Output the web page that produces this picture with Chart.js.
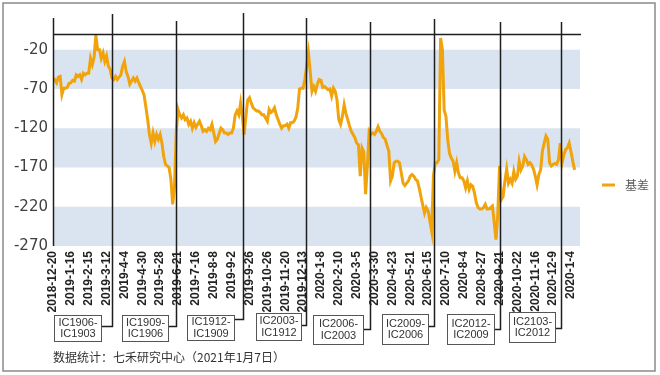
<!DOCTYPE html>
<html><head><meta charset="utf-8">
<script src="https://cdn.jsdelivr.net/npm/chart.js@4.4.1/dist/chart.umd.min.js"></script>
<style>html,body{margin:0;padding:0;background:#fff}canvas{display:block}</style>
</head><body>
<canvas id="c" width="660" height="375"></canvas>
<script>
const seriesName = '基差';
const tickLabels = ['2018-12-20','2019-1-16','2019-2-15','2019-3-12','2019-4-4','2019-4-30','2019-5-28','2019-6-21','2019-7-16','2019-8-8','2019-9-2','2019-9-26','2019-10-26','2019-11-20','2019-12-13','2020-1-8','2020-2-10','2020-3-5','2020-3-30','2020-4-23','2020-5-21','2020-6-15','2020-7-10','2020-8-4','2020-8-27','2020-9-21','2020-10-22','2020-11-16','2020-12-9','2020-1-4'];
const labelEvery = 10;
const yTicks = [-270,-220,-170,-120,-70,-20];
const yMin = -270, yMax = 0;
const basis = [
-60,-58,-62,-55,-54,-77,-69,-69,-68,-63,
-62,-59,-60,-52,-54,-52,-58,-50,-52,-50,
-50,-31,-39,-30,-2,-20,-20,-31,-24,-35,
-28,-41,-45,-56,-58,-54,-58,-55,-52,-41,
-35,-48,-54,-64,-60,-56,-60,-56,-62,-67,
-72,-78,-93,-109,-128,-139,-126,-137,-128,-134,
-128,-139,-156,-166,-168,-170,-185,-217,-195,-125,
-96,-103,-107,-103,-109,-107,-115,-111,-120,-113,
-119,-115,-111,-117,-124,-122,-124,-120,-122,-115,
-126,-137,-134,-127,-120,-122,-126,-126,-128,-126,
-126,-120,-103,-98,-103,-88,-105,-128,-105,-84,
-81,-88,-94,-96,-98,-98,-100,-103,-103,-107,
-111,-96,-100,-98,-94,-103,-109,-115,-120,-117,
-117,-115,-120,-113,-113,-111,-106,-95,-70,-69,
-69,-58,-41,-24,-48,-73,-67,-73,-64,-58,
-59,-68,-67,-69,-71,-70,-79,-69,-73,-84,
-109,-115,-105,-90,-101,-109,-117,-124,-128,-132,
-139,-141,-181,-145,-150,-204,-168,-124,-128,-126,
-128,-124,-118,-124,-127,-132,-134,-142,-149,-187,
-181,-164,-162,-162,-164,-177,-190,-193,-190,-187,
-181,-179,-181,-185,-187,-196,-207,-218,-228,-221,
-225,-238,-251,-180,-164,-164,-160,-5,-20,-97,
-105,-135,-152,-158,-162,-175,-164,-177,-183,-183,
-187,-196,-187,-198,-192,-194,-203,-215,-221,-223,
-223,-221,-217,-223,-223,-221,-219,-240,-262,-230,
-168,-211,-207,-187,-172,-190,-185,-190,-175,-185,
-181,-162,-173,-168,-156,-160,-166,-164,-167,-172,
-181,-192,-179,-173,-149,-139,-130,-134,-164,-168,
-166,-165,-166,-160,-139,-164,-154,-147,-145,-139,
-150,-162,-173
];
const rollIdx = [33, 69, 106.5, 141.5, 177.5, 213.5, 250.5, 284.5];
const rollNew = ['IC1906','IC1909','IC1912','IC2003','IC2006','IC2009','IC2012','IC2103'];
const rollOld = ['IC1903','IC1906','IC1909','IC1912','IC2003','IC2006','IC2009','IC2012'];
const sourceNote = '数据统计：七禾研究中心（2021年1月7日）';

const LINE_COLOR = '#F0A30A';
const BAND_COLOR = '#DAE4F0';

const decor = {
  id: 'decor',
  beforeDraw(chart) {
    const ctx = chart.ctx;
    ctx.save();
    ctx.fillStyle = '#fff';
    ctx.fillRect(0, 0, chart.width, chart.height);
    ctx.restore();
  },
  beforeDatasetsDraw(chart) {
    const {ctx, chartArea: a, scales: {y}} = chart;
    ctx.save();
    ctx.fillStyle = BAND_COLOR;
    const t = yTicks.slice().sort((p, q) => q - p);
    for (let i = 0; i + 1 < t.length; i += 2) {
      const y1 = y.getPixelForValue(t[i]), y2 = y.getPixelForValue(t[i + 1]);
      ctx.fillRect(a.left, y1, a.right - a.left - 1, y2 - y1);
    }
    ctx.restore();
  },
  afterDatasetsDraw(chart) {
    const {ctx, chartArea: a, scales: {x, y}} = chart;
    ctx.save();
    ctx.strokeStyle = '#1e1e1e';
    ctx.lineWidth = 1.5;
    // top border line at axis max
    const yTop = Math.round(y.getPixelForValue(yMax)) + 0.5;
    ctx.beginPath(); ctx.moveTo(a.left, yTop); ctx.lineTo(a.right, yTop); ctx.stroke();
    // y axis line
    const x0 = Math.round(x.getPixelForValue(0)) + 0.5;
    ctx.beginPath(); ctx.moveTo(x0, 18); ctx.lineTo(x0, a.bottom); ctx.stroke();
    // rollover lines + boxes
    const lineTop = [14, 21, 13, 18, 22, 19, 22, 22];
    const joinY = [326, 326, 319, 325, 329, 326, 329, 328];
    const boxGap = [12, 9, 10, 6, 8, 7, 7, 7];
    const boxW = [47, 46, 47, 45, 50, 46, 47, 46];
    const boxTop = [315, 315, 315, 313, 315, 314, 314, 312];
    const boxH = [26, 26, 25, 27, 29, 30, 30, 30];
    ctx.font = '11px "Liberation Sans", Arial, sans-serif';
    ctx.textAlign = 'center';
    ctx.textBaseline = 'middle';
    rollIdx.forEach((r, i) => {
      const lx = Math.round(x.getPixelForValue(r)) + 0.5;
      const jy = joinY[i] + 0.5;
      const bx = Math.round(lx - boxGap[i] - boxW[i]) + 0.5;
      ctx.strokeStyle = '#1e1e1e';
      ctx.lineWidth = 1.5;
      ctx.beginPath();
      ctx.moveTo(lx, lineTop[i]);
      ctx.lineTo(lx, jy);
      ctx.lineTo(bx + boxW[i], jy);
      ctx.stroke();
      ctx.fillStyle = '#fff';
      ctx.fillRect(bx, boxTop[i] + 0.5, boxW[i], boxH[i]);
      ctx.strokeStyle = '#555';
      ctx.lineWidth = 1;
      ctx.strokeRect(bx, boxTop[i] + 0.5, boxW[i], boxH[i]);
      ctx.fillStyle = '#333';
      const cx = bx + boxW[i] / 2, cy = boxTop[i] + boxH[i] / 2 + 0.5;
      ctx.fillText(rollNew[i] + '-', cx, cy - 5.8);
      ctx.fillText(rollOld[i], cx, cy + 5.8);
    });
    // legend
    ctx.strokeStyle = LINE_COLOR;
    ctx.lineWidth = 3;
    ctx.beginPath(); ctx.moveTo(602, 185); ctx.lineTo(615, 185); ctx.stroke();
    ctx.fillStyle = '#595959';
    ctx.textAlign = 'left';
    ctx.font = '12px "Noto Sans CJK SC", sans-serif';
    ctx.fillText(chart.data.datasets[0].label, 625, 185);
    // source note
    ctx.fillStyle = '#333';
    ctx.font = '12px "Noto Sans CJK SC", sans-serif';
    ctx.fillText(sourceNote, 53, 357);
    // outer frame
    ctx.strokeStyle = '#8a8a8a';
    ctx.lineWidth = 1.5;
    ctx.strokeRect(3, 3, 652, 368);
    ctx.restore();
  }
};

new Chart(document.getElementById('c'), {
  type: 'line',
  data: {
    datasets: [{
      label: seriesName,
      data: basis.map((v, i) => ({x: i, y: v})),
      borderColor: LINE_COLOR,
      backgroundColor: LINE_COLOR,
      borderWidth: 3,
      pointRadius: 0,
      tension: 0,
      fill: false
    }]
  },
  options: {
    responsive: false,
    animation: false,
    devicePixelRatio: 1,
    layout: {padding: {left: 0, top: 34, right: 79, bottom: 0}},
    plugins: {legend: {display: false}, tooltip: {enabled: false}},
    scales: {
      x: {
        type: 'linear',
        min: 0,
        max: 295.6,
        grid: {display: false, drawTicks: false},
        border: {display: false},
        afterFit(s) { s.height = 129; },
        afterBuildTicks(s) { s.ticks = tickLabels.map((_, i) => ({value: i * labelEvery})); },
        ticks: {
          autoSkip: false,
          maxRotation: 90,
          minRotation: 90,
          padding: 5,
          color: '#222',
          font: {family: '"Liberation Sans", Arial, sans-serif', size: 12, weight: 'bold'},
          callback: (v) => tickLabels[Math.round(v / labelEvery)]
        }
      },
      y: {
        min: yMin,
        max: yMax,
        grid: {display: false, drawTicks: false},
        border: {display: false},
        afterFit(s) { s.width = 53; },
        afterBuildTicks(s) { s.ticks = yTicks.map(v => ({value: v})); },
        ticks: {
          padding: 5,
          color: '#404040',
          font: {family: '"DejaVu Sans", sans-serif', size: 15},
          callback: (v) => String(v)
        }
      }
    }
  },
  plugins: [decor]
});
</script>
</body></html>
